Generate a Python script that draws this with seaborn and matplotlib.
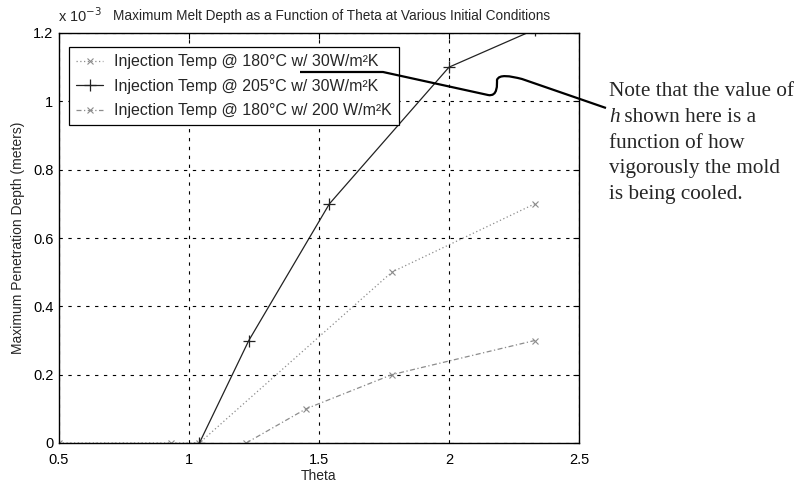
import numpy as np
import pandas as pd
import matplotlib
matplotlib.use("Agg")
import matplotlib.pyplot as plt
from matplotlib.path import Path
from matplotlib.patches import PathPatch
import seaborn as sns

sns.set_theme(style="white")
plt.rcParams['font.family'] = ['Liberation Sans', 'DejaVu Sans']

# ---- data (depth in units of 1e-3 m) ----
theta_180_30 = [0.5, 0.93, 1.04, 1.78, 2.33]
depth_180_30 = [0.0, 0.0, 0.0, 0.5, 0.7]
theta_205_30 = [1.04, 1.23, 1.54, 2.0, 2.33]
depth_205_30 = [0.0, 0.3, 0.7, 1.1, 1.21]
theta_180_200 = [1.22, 1.45, 1.78, 2.33]
depth_180_200 = [0.0, 0.1, 0.2, 0.3]

labels = ["Injection Temp @ 180°C w/ 30W/m²K",
          "Injection Temp @ 205°C w/ 30W/m²K",
          "Injection Temp @ 180°C w/ 200 W/m²K"]
xticks = [0.5, 1, 1.5, 2, 2.5]
xticklabels = ["0.5", "1", "1.5", "2", "2.5"]
yticks = [0, 0.2, 0.4, 0.6, 0.8, 1.0, 1.2]
yticklabels = ["0", "0.2", "0.4", "0.6", "0.8", "1", "1.2"]

W, H = 801, 484
fig = plt.figure(figsize=(W / 100, H / 100), dpi=100)
L, R, T, B = 59, 579, 33, 443
ax = fig.add_axes([L / W, 1 - B / H, (R - L) / W, (B - T) / H])

gray = "#8c8c8c"
dark = "#222222"
sns.lineplot(x=theta_180_30, y=depth_180_30, ax=ax, color=gray, linestyle=(0, (1, 2)),
             marker="x", markersize=4, markeredgewidth=0.8, markeredgecolor=gray,
             linewidth=0.9, label=labels[0], sort=False, estimator=None)
sns.lineplot(x=theta_205_30, y=depth_205_30, ax=ax, color=dark, linestyle="-",
             marker="+", markersize=9, markeredgewidth=0.9, markeredgecolor=dark,
             linewidth=0.9, label=labels[1], sort=False, estimator=None)
sns.lineplot(x=theta_180_200, y=depth_180_200, ax=ax, color=gray, linestyle=(0, (4, 2, 1, 2)),
             marker="x", markersize=4, markeredgewidth=0.8, markeredgecolor=gray,
             linewidth=0.9, label=labels[2], sort=False, estimator=None)

ax.set_xlim(0.5, 2.5)
ax.set_ylim(0, 1.2)
ax.set_xticks(xticks)
ax.set_xticklabels(xticklabels)
ax.set_yticks(yticks)
ax.set_yticklabels(yticklabels)
ax.tick_params(axis='both', direction='in', length=4, width=0.8, colors='black',
               labelsize=10.5, top=True, right=True)
ax.tick_params(axis='x', pad=7)
ax.tick_params(axis='y', pad=4)
ax.grid(True, color='black', linestyle=(0, (3, 5)), linewidth=0.8)
for s in ax.spines.values():
    s.set_color('black')
    s.set_linewidth(1.0)
ax.set_xlabel("Theta", fontsize=10, labelpad=2)
ax.set_ylabel("Maximum Penetration Depth (meters)", fontsize=10, labelpad=6)

leg = ax.legend(loc='upper left', bbox_to_anchor=(0.019, 0.966), fontsize=11.5,
                frameon=True, fancybox=False, framealpha=1, edgecolor='black',
                borderpad=0.45, labelspacing=0.6, handlelength=1.7, handletextpad=0.7,
                borderaxespad=0)
leg.get_frame().set_linewidth(0.9)

fig.text(58 / W, 1 - 16 / H, "x 10$^{-3}$", fontsize=10.5, va='center', ha='left')
fig.text(113 / W, 1 - 16 / H, "Maximum Melt Depth as a Function of Theta at Various Initial Conditions",
         fontsize=9.8, va='center', ha='left')

# note text
serif = ['Liberation Serif', 'DejaVu Serif']
nx = 609
fs = 15.3
lines_y = [91, 117, 143, 169, 195]
fig.text(nx / W, 1 - lines_y[0] / H, "Note that the value of", family=serif, fontsize=fs, va='center')
fig.text(nx / W, 1 - lines_y[1] / H, "h", family=serif, style='italic', fontsize=fs, va='center')
fig.text((nx + 10) / W, 1 - lines_y[1] / H, " shown here is a", family=serif, fontsize=fs, va='center')
fig.text(nx / W, 1 - lines_y[2] / H, "function of how", family=serif, fontsize=fs, va='center')
fig.text(nx / W, 1 - lines_y[3] / H, "vigorously the mold", family=serif, fontsize=fs, va='center')
fig.text(nx / W, 1 - lines_y[4] / H, "is being cooled.", family=serif, fontsize=fs, va='center')

# annotation path (figure pixel coords, y from top)
pts = [(300, 72), (383, 72), (488, 95),
       (498, 97), (497, 84), (497, 80),
       (499, 74), (510, 76), (522, 79),
       (606, 108)]
codes = [Path.MOVETO, Path.LINETO, Path.LINETO,
         Path.CURVE4, Path.CURVE4, Path.CURVE4,
         Path.CURVE4, Path.CURVE4, Path.CURVE4,
         Path.LINETO]
verts = [(x / W, 1 - y / H) for x, y in pts]
patch = PathPatch(Path(verts, codes), fill=False, lw=1.6, color='black',
                  transform=fig.transFigure, clip_on=False)
fig.add_artist(patch)

fig.savefig("out.png", dpi=100, facecolor='white')
